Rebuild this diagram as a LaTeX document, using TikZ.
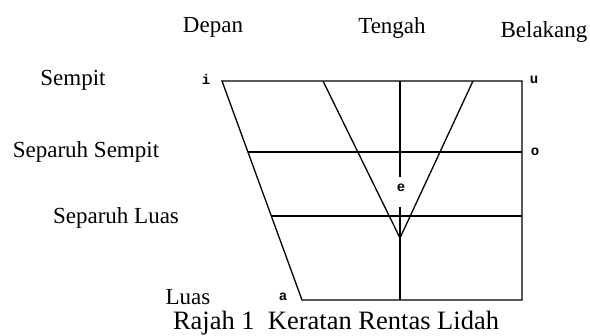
\documentclass[tikz,border=0pt]{standalone}
\usepackage{fontspec}
\setmainfont{Liberation Serif}
\newfontfamily\vowelfont{Liberation Mono}
\usetikzlibrary{calc}
\begin{document}
\begin{tikzpicture}[x=1pt, y=-1pt, line width=1.3pt,
  lbl/.style={font=\fontsize{23}{25}\selectfont, inner sep=0pt},
  vowel/.style={font=\vowelfont\bfseries\fontsize{14}{16}\selectfont, inner sep=1pt}]
  \useasboundingbox (0,0) rectangle (590,336);

  % Column headings
  \node[lbl] (depan) at (213,27) {Depan};
  \node[lbl] (tengah) at (392,28) {Tengah};
  \node[lbl] (belakang) at (544,32) {Belakang};

  % Row headings
  \node[lbl] (sempit) at (73,80) {Sempit};
  \node[lbl] (sepsempit) at (86,152) {Separuh Sempit};
  \node[lbl] (sepluas) at (116,218) {Separuh Luas};
  \node[lbl] (luas) at (188,297) {Luas};

  % Corners of the chart
  \coordinate (tl) at (222,81);
  \coordinate (tr) at (522,81);
  \coordinate (br) at (522,300);
  \coordinate (bl) at (302,300);
  \coordinate (mtop) at (400,81);
  \coordinate (mbot) at (400,300);
  \coordinate (vl) at (323,81);
  \coordinate (vr) at (473,81);
  \coordinate (vtip) at (400,238);

  % Vowels
  \node[vowel] (i) at (206,79) {i};
  \node[vowel] (u) at (534,80) {u};
  \node[vowel] (o) at (535,152) {o};
  \node[vowel] (e) at (401,188) {e};
  \node[vowel] (a) at (283,297) {a};

  % Outline
  \draw (tl) -- (tr) -- (br) -- (bl) -- cycle;
  \draw ($(tl)!0.324!(bl)$) coordinate (h1) -- (h1 -| br);
  \draw ($(tl)!0.616!(bl)$) coordinate (h2) -- (h2 -| br);

  % Middle line, broken at e
  \draw (mtop) -- (400,177);
  \draw (400,207) -- (mbot);

  % V
  \draw (vl) -- (vtip) -- (vr);

  % Caption
  \node[font=\fontsize{26.5}{29}\selectfont, inner sep=0pt] (caption) at (336,323) {Rajah 1\ \ Keratan Rentas Lidah};
\end{tikzpicture}
\end{document}
